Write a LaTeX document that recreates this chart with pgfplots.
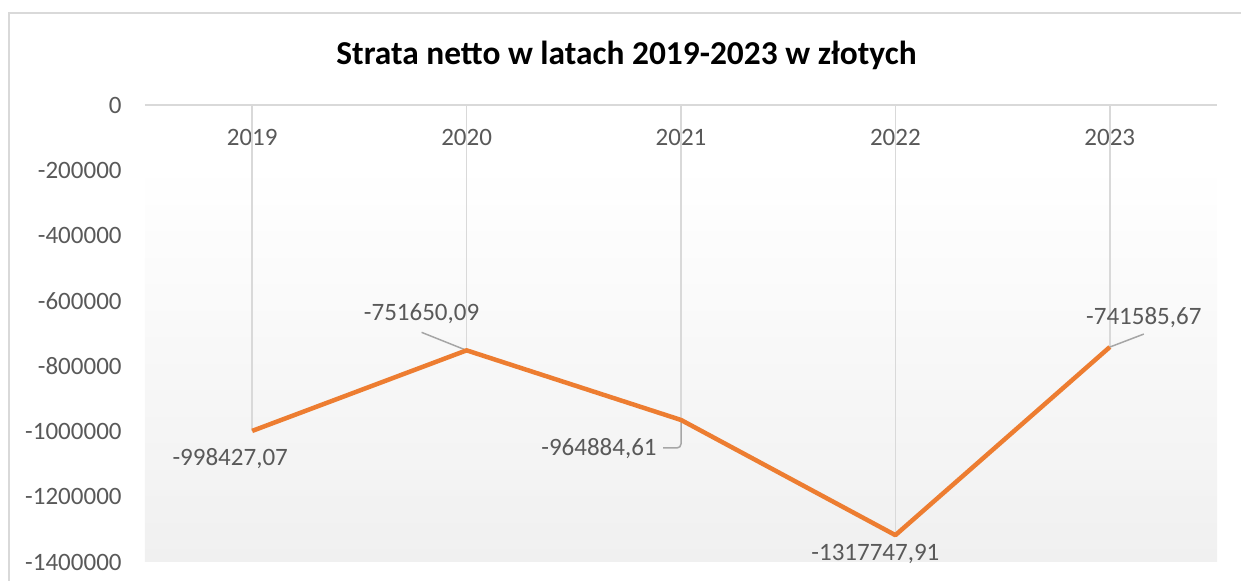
\documentclass[border=0pt]{standalone}
\usepackage{pgfplots}
\pgfplotsset{compat=1.18}
\usepackage{pgfplotstable}
\usepackage{fontspec}
\setmainfont{Carlito}
\definecolor{txt}{RGB}{89,89,89}
\definecolor{gridc}{RGB}{217,217,217}
\definecolor{leadc}{RGB}{166,166,166}
\definecolor{orng}{RGB}{237,125,49}
\definecolor{bgc}{RGB}{240,240,240}
\pgfdeclareverticalshading{bgshade}{100bp}{color(0bp)=(bgc); color(25bp)=(bgc); color(68.5bp)=(white); color(100bp)=(white)}

\pgfplotstableread{
x y label dx dy
0 -998427.07 -998427,07 -22 -28
1 -751650.09 -751650,09 -45 37
2 -964884.61 -964884,61 -82 -29
3 -1317747.91 -1317747,91 -20 -19
4 -741585.67 -741585,67 34 30
}\datatable

\begin{document}
\begin{tikzpicture}
\path[use as bounding box] (-72.5pt,-9.5pt) rectangle (548pt,281pt);
\draw[gridc, line width=0.75pt] (-68pt,-12pt) -- (-68pt,274.5pt) -- (552pt,274.5pt);
\node[font=\bfseries\fontsize{16.7}{20}\selectfont, text=black] at (240.75pt,253.5pt) {Strata netto w latach 2019-2023 w złotych};
\begin{axis}[
  at={(0,0)}, anchor=south west,
  scale only axis, width=536pt, height=228.5pt,
  xmin=-0.5, xmax=4.5, ymin=-1400000, ymax=0,
  clip=false,
  scaled y ticks=false,
  axis line style={draw=none},
  major tick length=0pt,
  axis background/.style={shading=bgshade},
  xtick={0,1,2,3,4},
  xticklabels={2019,2020,2021,2022,2023},
  xticklabel pos=upper,
  xticklabel style={anchor=center, inner sep=0pt, yshift=-16pt},
  ytick={0,-200000,-400000,-600000,-800000,-1000000,-1200000,-1400000},
  yticklabels={0,-200000,-400000,-600000,-800000,-1000000,-1200000,-1400000},
  yticklabel style={anchor=east, inner sep=0pt, xshift=-11.5pt},
  ticklabel style={font=\fontsize{12.5}{15}\selectfont, text=txt},
]
\draw[gridc, line width=0.75pt] (axis cs:-0.5,0) -- (axis cs:4.5,0);
\addplot[ycomb, gridc, line width=0.75pt, mark=none] table[x=x,y=y]{\datatable};
\draw[leadc, line width=0.75pt] (axis cs:1,-751650.09) -- ++(-22.5pt,9pt);
\draw[leadc, line width=0.75pt, rounded corners=2pt] (axis cs:2,-964884.61) -- ++(0pt,-14pt) -- ++(-9pt,0pt);
\draw[leadc, line width=0.75pt] (axis cs:4,-741585.67) -- ++(17pt,6.5pt);
\addplot[orng, line width=2.25pt, line join=round, mark=none,
  nodes near coords, point meta=explicit symbolic,
  visualization depends on={\thisrow{dx} \as \dx},
  visualization depends on={\thisrow{dy} \as \dy},
  every node near coord/.append style={anchor=center, inner sep=0pt, xshift=0.5pt*\dx, yshift=0.5pt*\dy, font=\fontsize{12.5}{15}\selectfont, text=txt},
] table[x=x,y=y,meta=label]{\datatable};
\end{axis}
\end{tikzpicture}
\end{document}
